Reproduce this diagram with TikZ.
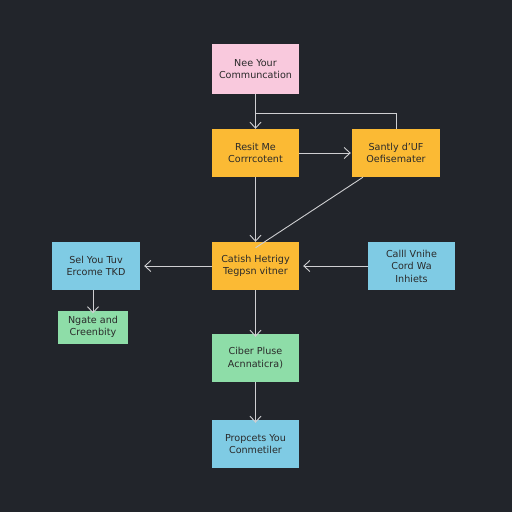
\documentclass[tikz,border=0pt]{standalone}
\usepackage{fontspec}
\setmainfont{DejaVu Sans}
\usetikzlibrary{arrows.meta}
\definecolor{bg}{HTML}{22252B}
\definecolor{pinkc}{HTML}{F9C9DD}
\definecolor{orangec}{HTML}{FBBA34}
\definecolor{bluec}{HTML}{7FCBE4}
\definecolor{greenc}{HTML}{8EDDA8}
\definecolor{linec}{HTML}{CFCFD2}
\definecolor{txt}{HTML}{2A2A2A}
\begin{document}
\begin{tikzpicture}[x=1pt,y=-1pt,
  box/.style={rectangle, draw=none, minimum width=87pt, minimum height=48pt, inner sep=1pt,
    align=center, text=txt, font=\fontsize{9.6}{12.5}\selectfont},
  smallbox/.style={box, minimum width=70pt, minimum height=33pt},
  conn/.style={draw=linec, line width=0.9pt},
  arr/.style={conn, -{Straight Barb[length=6pt,width=11pt,line width=0.9pt]}}]
\fill[bg] (0,0) rectangle (512,512);
\useasboundingbox (0,0) rectangle (512,512);
\node[box, fill=pinkc, minimum height=50pt] (n1) at (255.5,69) {Nee Your\\Communcation};
\node[box, fill=orangec] (n2) at (255.5,153) {Resit Me\\Corrrcotent};
\node[box, fill=orangec, minimum width=88pt] (n3) at (396,153) {Santly d'UF\\Oefisemater};
\node[box, fill=orangec] (n4) at (255.5,266) {Catish Hetrigy\\Tegpsn vitner};
\node[box, fill=bluec, minimum width=88pt] (n5) at (96,266) {Sel You Tuv\\Ercome TKD};
\node[box, fill=bluec] (n6) at (411.5,266) {Calll Vnihe\\Cord Wa\\Inhiets};
\node[smallbox, fill=greenc] (n7) at (93,327) {Ngate and\\Creenbity};
\node[box, fill=greenc] (n8) at (255.5,358) {Ciber Pluse\\Acnnaticra)};
\node[box, fill=bluec] (n9) at (255.5,444) {Propcets You\\Conmetiler};
\coordinate (j) at (255.5,113);
\draw[arr] (n1.south) -- (n2.north);
\draw[conn] (n3.north) |- (j);
\draw[arr] (n2.east) -- ([xshift=-1pt]n3.west);
\draw[arr] (n2.south) -- (n4.north);
\draw[conn] ([xshift=-33pt]n3.south) -- ([yshift=-6pt]n4.north);
\draw[arr] (n4.west) -- ([xshift=4pt]n5.east);
\draw[arr] (n6.west) -- ([xshift=4pt]n4.east);
\draw[arr] (n7.north |- n5.south) -- ([yshift=-3pt]n7.north);
\draw[arr] (n4.south) -- ([yshift=-3pt]n8.north);
\draw[arr] (n8.south) -- ([yshift=-3pt]n9.north);
\end{tikzpicture}
\end{document}
